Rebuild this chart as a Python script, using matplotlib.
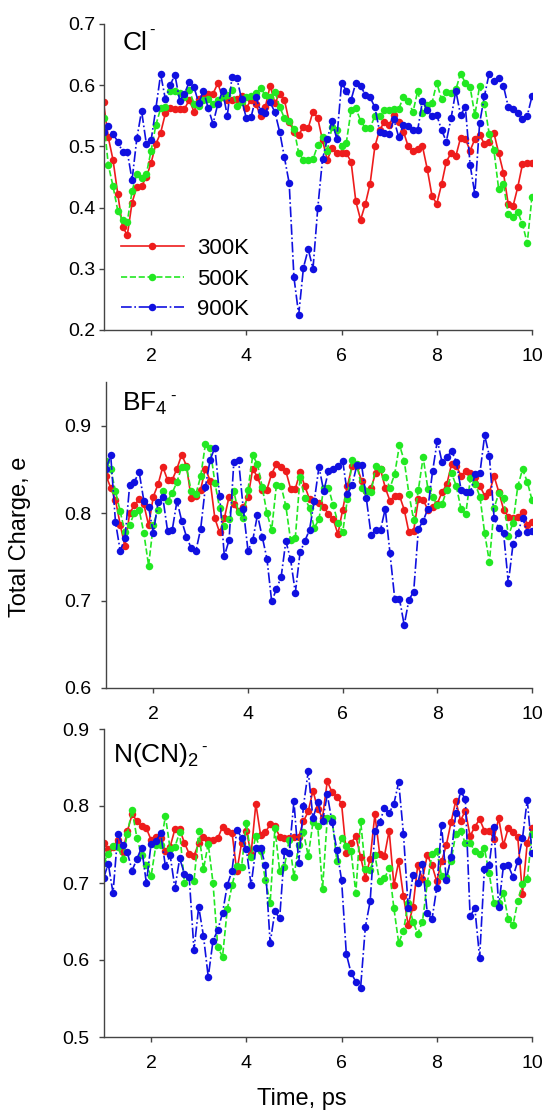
import numpy as np
import matplotlib
matplotlib.use("Agg")
import matplotlib.pyplot as plt

plt.rcParams['font.family'] = ['Liberation Sans', 'DejaVu Sans']
plt.rcParams['mathtext.default'] = 'regular'

time_ps = np.round(np.linspace(1.0, 10.0, 91), 1)
series_labels = ["300K", "500K", "900K"]

cl_300 = [0.572, 0.515, 0.478, 0.422, 0.369, 0.355, 0.408, 0.434, 0.435, 0.450,
          0.473, 0.504, 0.522, 0.554, 0.562, 0.561, 0.561, 0.561, 0.576, 0.557,
          0.578, 0.581, 0.585, 0.586, 0.603, 0.581, 0.576, 0.576, 0.578, 0.582,
          0.563, 0.576, 0.569, 0.550, 0.565, 0.599, 0.571, 0.586, 0.576, 0.540,
          0.524, 0.519, 0.532, 0.530, 0.557, 0.546, 0.510, 0.478, 0.497, 0.489,
          0.489, 0.489, 0.475, 0.410, 0.380, 0.406, 0.439, 0.500, 0.527, 0.540,
          0.535, 0.551, 0.540, 0.524, 0.500, 0.493, 0.495, 0.500, 0.463, 0.419,
          0.406, 0.438, 0.475, 0.489, 0.484, 0.514, 0.512, 0.493, 0.512, 0.519,
          0.504, 0.508, 0.522, 0.489, 0.457, 0.406, 0.402, 0.433, 0.471, 0.473,
          0.473]
cl_500 = [0.547, 0.470, 0.435, 0.395, 0.380, 0.377, 0.427, 0.455, 0.448, 0.455,
          0.493, 0.535, 0.562, 0.564, 0.591, 0.591, 0.588, 0.581, 0.592, 0.570,
          0.566, 0.576, 0.577, 0.570, 0.576, 0.580, 0.584, 0.592, 0.566, 0.573,
          0.581, 0.582, 0.587, 0.595, 0.584, 0.581, 0.589, 0.565, 0.546, 0.542,
          0.529, 0.489, 0.478, 0.478, 0.479, 0.502, 0.516, 0.493, 0.532, 0.527,
          0.500, 0.506, 0.559, 0.562, 0.542, 0.530, 0.530, 0.550, 0.549, 0.559,
          0.559, 0.561, 0.561, 0.581, 0.575, 0.556, 0.591, 0.555, 0.568, 0.571,
          0.604, 0.577, 0.589, 0.587, 0.593, 0.619, 0.604, 0.597, 0.551, 0.599,
          0.570, 0.521, 0.494, 0.430, 0.439, 0.390, 0.385, 0.393, 0.373, 0.342,
          0.418]
cl_900 = [0.524, 0.533, 0.520, 0.508, 0.491, 0.491, 0.445, 0.513, 0.558, 0.504,
          0.510, 0.562, 0.618, 0.577, 0.600, 0.617, 0.575, 0.586, 0.605, 0.597,
          0.571, 0.591, 0.562, 0.537, 0.569, 0.591, 0.550, 0.614, 0.612, 0.577,
          0.546, 0.548, 0.580, 0.558, 0.555, 0.572, 0.556, 0.524, 0.482, 0.440,
          0.286, 0.225, 0.302, 0.332, 0.300, 0.399, 0.479, 0.512, 0.542, 0.512,
          0.604, 0.591, 0.576, 0.604, 0.599, 0.584, 0.580, 0.564, 0.524, 0.522,
          0.521, 0.544, 0.515, 0.535, 0.533, 0.526, 0.527, 0.575, 0.559, 0.549,
          0.551, 0.527, 0.508, 0.546, 0.591, 0.551, 0.565, 0.470, 0.422, 0.538,
          0.582, 0.619, 0.607, 0.611, 0.599, 0.565, 0.561, 0.554, 0.544, 0.550,
          0.582]

bf4_300 = [0.843, 0.829, 0.815, 0.787, 0.762, 0.800, 0.809, 0.816, 0.810, 0.786,
           0.819, 0.833, 0.853, 0.838, 0.838, 0.851, 0.867, 0.854, 0.817, 0.820,
           0.827, 0.851, 0.837, 0.794, 0.778, 0.794, 0.819, 0.810, 0.802, 0.807,
           0.818, 0.851, 0.841, 0.827, 0.827, 0.845, 0.856, 0.853, 0.848, 0.828,
           0.828, 0.847, 0.831, 0.816, 0.814, 0.812, 0.807, 0.799, 0.793, 0.776,
           0.804, 0.831, 0.854, 0.854, 0.837, 0.825, 0.829, 0.846, 0.850, 0.829,
           0.814, 0.820, 0.820, 0.804, 0.778, 0.780, 0.816, 0.815, 0.804, 0.807,
           0.811, 0.824, 0.833, 0.856, 0.854, 0.843, 0.848, 0.846, 0.841, 0.831,
           0.820, 0.824, 0.842, 0.824, 0.804, 0.796, 0.795, 0.796, 0.801, 0.787,
           0.790]
bf4_500 = [0.860, 0.850, 0.825, 0.802, 0.778, 0.787, 0.800, 0.804, 0.777, 0.740,
           0.787, 0.804, 0.825, 0.814, 0.823, 0.836, 0.853, 0.853, 0.825, 0.822,
           0.842, 0.879, 0.874, 0.835, 0.806, 0.785, 0.793, 0.825, 0.801, 0.795,
           0.827, 0.866, 0.856, 0.830, 0.800, 0.781, 0.832, 0.831, 0.808, 0.769,
           0.772, 0.841, 0.817, 0.806, 0.783, 0.793, 0.829, 0.829, 0.809, 0.789,
           0.778, 0.816, 0.861, 0.856, 0.829, 0.825, 0.824, 0.854, 0.851, 0.841,
           0.829, 0.845, 0.878, 0.860, 0.822, 0.792, 0.827, 0.864, 0.828, 0.819,
           0.809, 0.810, 0.827, 0.846, 0.831, 0.805, 0.799, 0.840, 0.833, 0.819,
           0.777, 0.744, 0.806, 0.823, 0.817, 0.774, 0.789, 0.831, 0.850, 0.836,
           0.815]
bf4_900 = [0.851, 0.866, 0.790, 0.757, 0.771, 0.832, 0.836, 0.847, 0.814, 0.807,
           0.777, 0.813, 0.818, 0.780, 0.781, 0.814, 0.791, 0.773, 0.760, 0.757,
           0.782, 0.830, 0.861, 0.875, 0.820, 0.751, 0.769, 0.858, 0.861, 0.805,
           0.757, 0.769, 0.798, 0.773, 0.748, 0.699, 0.713, 0.727, 0.768, 0.747,
           0.709, 0.755, 0.768, 0.781, 0.814, 0.853, 0.825, 0.848, 0.851, 0.854,
           0.860, 0.822, 0.832, 0.855, 0.855, 0.817, 0.775, 0.781, 0.781, 0.805,
           0.754, 0.702, 0.702, 0.672, 0.701, 0.710, 0.782, 0.791, 0.805, 0.848,
           0.883, 0.858, 0.864, 0.871, 0.859, 0.827, 0.824, 0.824, 0.845, 0.846,
           0.889, 0.865, 0.794, 0.783, 0.777, 0.720, 0.765, 0.777, 0.795, 0.778,
           0.780]

ncn_300 = [0.752, 0.744, 0.747, 0.756, 0.740, 0.767, 0.789, 0.781, 0.774, 0.771,
           0.756, 0.760, 0.759, 0.741, 0.747, 0.770, 0.770, 0.752, 0.738, 0.735,
           0.752, 0.760, 0.756, 0.756, 0.758, 0.773, 0.767, 0.765, 0.715, 0.752,
           0.768, 0.738, 0.803, 0.762, 0.766, 0.776, 0.774, 0.760, 0.759, 0.759,
           0.760, 0.760, 0.780, 0.793, 0.820, 0.796, 0.785, 0.832, 0.818, 0.812,
           0.803, 0.739, 0.752, 0.761, 0.734, 0.707, 0.731, 0.789, 0.738, 0.735,
           0.768, 0.697, 0.728, 0.683, 0.645, 0.669, 0.723, 0.705, 0.736, 0.723,
           0.702, 0.728, 0.749, 0.779, 0.807, 0.781, 0.794, 0.761, 0.773, 0.783,
           0.768, 0.768, 0.757, 0.784, 0.749, 0.771, 0.766, 0.760, 0.686, 0.752,
           0.771]
ncn_500 = [0.726, 0.738, 0.748, 0.747, 0.731, 0.764, 0.795, 0.759, 0.736, 0.723,
           0.709, 0.749, 0.749, 0.787, 0.744, 0.747, 0.766, 0.700, 0.708, 0.702,
           0.767, 0.718, 0.751, 0.700, 0.617, 0.604, 0.666, 0.697, 0.722, 0.721,
           0.778, 0.734, 0.761, 0.741, 0.704, 0.674, 0.771, 0.716, 0.721, 0.756,
           0.708, 0.750, 0.766, 0.735, 0.779, 0.774, 0.692, 0.784, 0.784, 0.729,
           0.759, 0.748, 0.741, 0.687, 0.781, 0.718, 0.717, 0.736, 0.702, 0.706,
           0.719, 0.667, 0.622, 0.638, 0.674, 0.650, 0.634, 0.650, 0.700, 0.738,
           0.742, 0.709, 0.708, 0.729, 0.764, 0.767, 0.752, 0.752, 0.741, 0.738,
           0.745, 0.713, 0.674, 0.674, 0.687, 0.653, 0.645, 0.676, 0.699, 0.705,
           0.764]
ncn_900 = [0.706, 0.725, 0.687, 0.764, 0.749, 0.740, 0.716, 0.731, 0.746, 0.700,
           0.751, 0.754, 0.765, 0.722, 0.736, 0.693, 0.732, 0.712, 0.708, 0.613,
           0.669, 0.631, 0.578, 0.625, 0.639, 0.661, 0.697, 0.716, 0.769, 0.759,
           0.744, 0.697, 0.745, 0.746, 0.723, 0.622, 0.663, 0.654, 0.741, 0.739,
           0.806, 0.726, 0.800, 0.845, 0.784, 0.805, 0.780, 0.815, 0.779, 0.743,
           0.704, 0.608, 0.583, 0.572, 0.564, 0.643, 0.676, 0.767, 0.779, 0.797,
           0.791, 0.803, 0.831, 0.764, 0.668, 0.710, 0.700, 0.725, 0.661, 0.653,
           0.694, 0.775, 0.704, 0.734, 0.791, 0.819, 0.809, 0.657, 0.667, 0.603,
           0.718, 0.723, 0.773, 0.669, 0.722, 0.723, 0.708, 0.728, 0.758, 0.808,
           0.739]

panel_names = [r"Cl", r"BF$_{4}$", r"N(CN)$_{2}$"]
panel_charge = "-"
panel_data = [(cl_300, cl_500, cl_900), (bf4_300, bf4_500, bf4_900), (ncn_300, ncn_500, ncn_900)]
panel_ylims = [(0.2, 0.7), (0.6, 0.95), (0.5, 0.9)]
panel_yticks = [[0.2, 0.3, 0.4, 0.5, 0.6, 0.7], [0.6, 0.7, 0.8, 0.9], [0.5, 0.6, 0.7, 0.8, 0.9]]
xticks = [2, 4, 6, 8, 10]

colors = ["#ee1c1c", "#22e822", "#1010e0"]
styles = ["-", "--", "-."]

W, H = 549, 1111
fig = plt.figure(figsize=(W / 100, H / 100), dpi=100)

# axes boxes in pixels: (left, top, right, bottom)
boxes = [(103.5, 24, 532, 330), (106, 382, 532, 688), (103.5, 729, 532, 1037)]
label_pos = [(0.044, 0.937), (0.038, 0.93), (0.022, 0.915)]
charge_dy = [-2.5, -7.5, -7.5]
ypads = [2.5, 7, 7]

for k, (box, data) in enumerate(zip(boxes, panel_data)):
    l, t, r, b = box
    ax = fig.add_axes([l / W, 1 - b / H, (r - l) / W, (b - t) / H])
    for vals, c, ls, lab in zip(data, colors, styles, series_labels):
        ax.plot(time_ps, vals, color=c, linestyle=ls, linewidth=1.2,
                marker='o', markersize=5.4, markeredgewidth=0, label=lab)
    ax.set_xlim(1, 10)
    ax.set_ylim(*panel_ylims[k])
    ax.set_yticks(panel_yticks[k])
    ax.set_yticklabels([f"{v:.1f}" for v in panel_yticks[k]])
    ax.set_xticks(xticks)
    for s in ['top', 'right']:
        ax.spines[s].set_visible(False)
    for s in ['left', 'bottom']:
        ax.spines[s].set_color('#444444')
        ax.spines[s].set_linewidth(1.0)
    ax.tick_params(direction='out', length=3.5, width=1.0, color='#444444',
                   labelsize=14)
    ax.tick_params(axis='x', pad=9.5)
    ax.tick_params(axis='y', pad=ypads[k])
    base = ax.text(label_pos[k][0], label_pos[k][1], panel_names[k], transform=ax.transAxes,
                   fontsize=19, va='center', ha='left')
    ax.annotate(panel_charge, xy=(1, 1), xycoords=base, xytext=(1.5, charge_dy[k]),
                textcoords='offset points', fontsize=12, ha='left', va='baseline')
    if k == 0:
        ax.legend(loc='lower left', bbox_to_anchor=(0.0, -0.025), frameon=False,
                  fontsize=16, handlelength=2.8, handletextpad=0.6,
                  labelspacing=0.42, borderaxespad=0.4)

fig.text(20 / W, 1 - 537 / H, "Total Charge, e", rotation=90, fontsize=17,
         ha='center', va='center')
fig.text(302 / W, 1 - 1099 / H, "Time, ps", fontsize=17, ha='center', va='center')

fig.savefig("out.png", dpi=100)
